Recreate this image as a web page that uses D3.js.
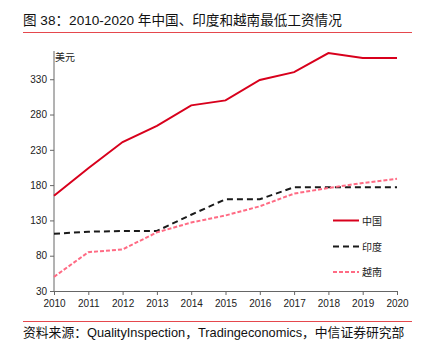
<!DOCTYPE html>
<html>
<head>
<meta charset="utf-8">
<script src="https://cdn.jsdelivr.net/npm/d3@7"></script>
<style>
	body { margin: 0; background: #fff; }
	svg text { font-family: "Liberation Sans", "Noto Sans CJK SC", sans-serif; }
	.tick text { font-family: "Liberation Sans Narrow", "Liberation Sans", sans-serif; font-size: 10px; fill: #222; }
</style>
</head>
<body>
<div id="chart"></div>
<script>
var years = [2010, 2011, 2012, 2013, 2014, 2015, 2016, 2017, 2018, 2019, 2020];
var chinaVals = [165, 204, 241, 264, 293, 300, 329, 340, 367, 360, 360];
var indiaVals = [111, 114, 115, 115, 138, 160, 160, 177, 177, 177, 177];
var vietnamVals = [50, 85, 89, 113, 127, 137, 150, 168, 176, 183, 189];
var yTicks = [30, 80, 130, 180, 230, 280, 330];
var seriesNames = ["中国", "印度", "越南"];

var width = 426, height = 346;
var margin = {left: 54, right: 29, top: 51, bottom: 55};

var svg = d3.select("#chart").append("svg")
	.attr("width", width)
	.attr("height", height);

// title
svg.append("text")
	.attr("x", 23).attr("y", 25)
	.attr("font-size", 13.6).attr("fill", "#111")
	.text("图 38：2010-2020 年中国、印度和越南最低工资情况");
svg.append("line")
	.attr("x1", 23).attr("x2", 412).attr("y1", 32.5).attr("y2", 32.5)
	.attr("stroke", "#e5484d").attr("stroke-width", 1.2);

var x = d3.scaleLinear().domain([2010, 2020]).range([margin.left, width - margin.right]);
var y = d3.scaleLinear().domain([30, 370]).range([height - margin.bottom, margin.top]);

// axes
var xAxis = d3.axisBottom(x).tickValues(years).tickFormat(d3.format("d")).tickSize(4).tickPadding(5);
var yAxis = d3.axisLeft(y).tickValues(yTicks).tickSize(4).tickPadding(3);

var gx = svg.append("g")
	.attr("transform", "translate(0," + y(30) + ")")
	.call(xAxis);
gx.select(".domain").attr("stroke", "#666");
gx.selectAll(".tick line").attr("stroke", "#666");

var gy = svg.append("g")
	.attr("transform", "translate(" + margin.left + ",0)")
	.call(yAxis);
gy.select(".domain").attr("stroke", "#666").attr("d", "M0," + y(30) + "V" + margin.top);
gy.selectAll(".tick line").attr("stroke", "#666");

svg.append("text")
	.attr("x", margin.left + 1).attr("y", 61)
	.attr("font-size", 10).attr("fill", "#222")
	.text("美元");

// lines
var series = [
	{name: seriesNames[0], values: chinaVals, color: "#d8001c", dash: null},
	{name: seriesNames[1], values: indiaVals, color: "#1a1a1a", dash: "6,4"},
	{name: seriesNames[2], values: vietnamVals, color: "#ff6b84", dash: "4,2"}
];

var line = d3.line()
	.x(function(d, i) { return x(years[i]); })
	.y(function(d) { return y(d); });

series.forEach(function(s) {
	svg.append("path")
		.attr("d", line(s.values))
		.attr("fill", "none")
		.attr("stroke", s.color)
		.attr("stroke-width", 2)
		.attr("stroke-dasharray", s.dash);
});

// legend
var legendY = [220.5, 246.5, 272];
series.forEach(function(s, i) {
	svg.append("line")
		.attr("x1", 333).attr("x2", 359)
		.attr("y1", legendY[i]).attr("y2", legendY[i])
		.attr("stroke", s.color).attr("stroke-width", 2)
		.attr("stroke-dasharray", s.dash);
	svg.append("text")
		.attr("x", 362).attr("y", legendY[i] + 4)
		.attr("font-size", 10).attr("fill", "#222")
		.text(s.name);
});

// source
svg.append("line")
	.attr("x1", 23).attr("x2", 412).attr("y1", 321.5).attr("y2", 321.5)
	.attr("stroke", "#e5484d").attr("stroke-width", 1.2);
svg.append("text")
	.attr("x", 23).attr("y", 337)
	.attr("font-size", 12.8).attr("fill", "#111")
	.text("资料来源：QualityInspection，Tradingeconomics，中信证券研究部");
</script>
</body>
</html>
